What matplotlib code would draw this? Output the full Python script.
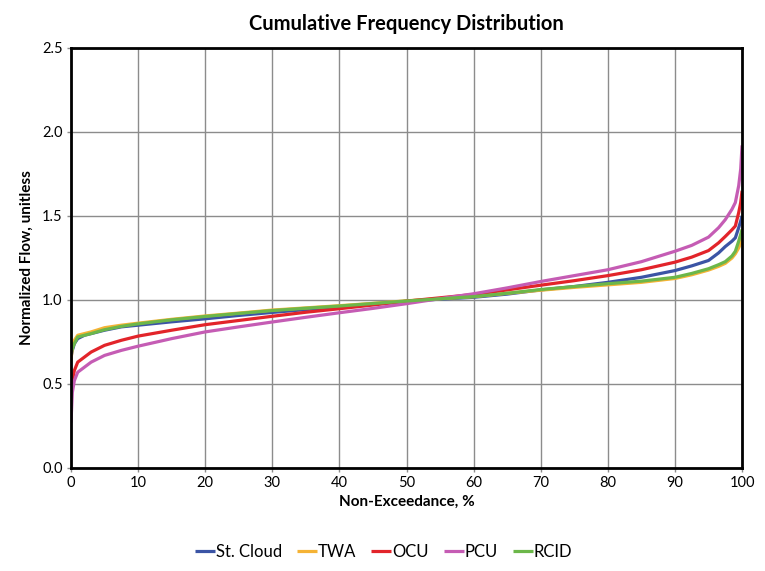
import matplotlib
matplotlib.use("Agg")
import matplotlib.pyplot as plt

pct = [0, 0.2, 0.5, 1, 2, 3, 5, 7.5, 10, 15, 20, 25, 30, 35, 40, 45, 50, 55, 60, 65,
       70, 75, 80, 85, 90, 92.5, 95, 96.5, 97.5, 98.5, 99, 99.5, 99.8, 100]

st_cloud = [0.66, 0.70, 0.74, 0.77, 0.79, 0.80, 0.82, 0.84, 0.85, 0.87, 0.888, 0.908, 0.926, 0.943,
            0.958, 0.975, 0.992, 1.005, 1.016, 1.035, 1.06, 1.08, 1.105, 1.135, 1.175, 1.203, 1.235,
            1.28, 1.318, 1.35, 1.37, 1.43, 1.47, 1.50]
twa = [0.64, 0.72, 0.76, 0.79, 0.80, 0.81, 0.835, 0.85, 0.862, 0.885, 0.905, 0.922, 0.94, 0.953,
       0.966, 0.98, 0.995, 1.008, 1.02, 1.04, 1.058, 1.075, 1.09, 1.105, 1.128, 1.15, 1.178,
       1.20, 1.218, 1.25, 1.275, 1.31, 1.34, 1.37]
ocu = [0.45, 0.52, 0.58, 0.63, 0.66, 0.69, 0.73, 0.76, 0.785, 0.82, 0.853, 0.878, 0.903, 0.927,
       0.948, 0.97, 0.993, 1.013, 1.033, 1.06, 1.088, 1.115, 1.145, 1.18, 1.225, 1.255, 1.294,
       1.34, 1.378, 1.418, 1.44, 1.52, 1.58, 1.65]
pcu = [0.27, 0.45, 0.52, 0.57, 0.60, 0.63, 0.67, 0.70, 0.725, 0.77, 0.81, 0.84, 0.869, 0.897,
       0.924, 0.95, 0.978, 1.008, 1.037, 1.072, 1.11, 1.145, 1.18, 1.228, 1.29, 1.325, 1.374,
       1.43, 1.478, 1.54, 1.58, 1.68, 1.78, 1.92]
rcid = [0.68, 0.71, 0.74, 0.78, 0.79, 0.80, 0.823, 0.843, 0.858, 0.882, 0.902, 0.92, 0.937, 0.951,
        0.964, 0.979, 0.994, 1.007, 1.02, 1.04, 1.062, 1.08, 1.097, 1.112, 1.135, 1.158, 1.186,
        1.21, 1.228, 1.262, 1.29, 1.35, 1.39, 1.42]

series = [("St. Cloud", st_cloud, "#3b54a5"),
          ("TWA", twa, "#f5b335"),
          ("OCU", ocu, "#e2242a"),
          ("PCU", pcu, "#c55cb4"),
          ("RCID", rcid, "#6cb74a")]

xticks = [0, 10, 20, 30, 40, 50, 60, 70, 80, 90, 100]
yticks = [0.0, 0.5, 1.0, 1.5, 2.0, 2.5]

plt.rcParams['font.family'] = ['Lato', 'DejaVu Sans']

fig = plt.figure(figsize=(7.65, 5.71), dpi=100)
ax = fig.add_axes([0.0928, 0.1804, 0.8772, 0.7356])

for name, vals, col in series:
    ax.plot(pct, vals, color=col, lw=2.3, label=name, solid_capstyle='butt')

ax.set_xlim(0, 100)
ax.set_ylim(0, 2.5)
ax.set_xticks(xticks)
ax.set_yticks(yticks)
ax.set_yticklabels([f"{v:.1f}" for v in yticks])
ax.grid(True, color="#8c8c8c", lw=1.0)
ax.set_axisbelow(True)
for s in ax.spines.values():
    s.set_color("black")
    s.set_linewidth(2.0)
ax.tick_params(axis='both', direction='out', length=3, color="#8c8c8c", width=1,
               labelsize=10.5, pad=3)

ax.set_title("Cumulative Frequency Distribution", fontsize=14.5, fontweight='bold', pad=13)
ax.set_xlabel("Non-Exceedance, %", fontsize=11, fontweight='bold', labelpad=3)
ax.set_ylabel("Normalized Flow, unitless", fontsize=11, fontweight='bold', labelpad=6)

ax.legend(loc='upper center', bbox_to_anchor=(0.466, -0.145), ncol=5, frameon=False,
          fontsize=12, handlelength=1.2, handletextpad=0.05, columnspacing=0.9)

fig.savefig("out.png", dpi=100)
